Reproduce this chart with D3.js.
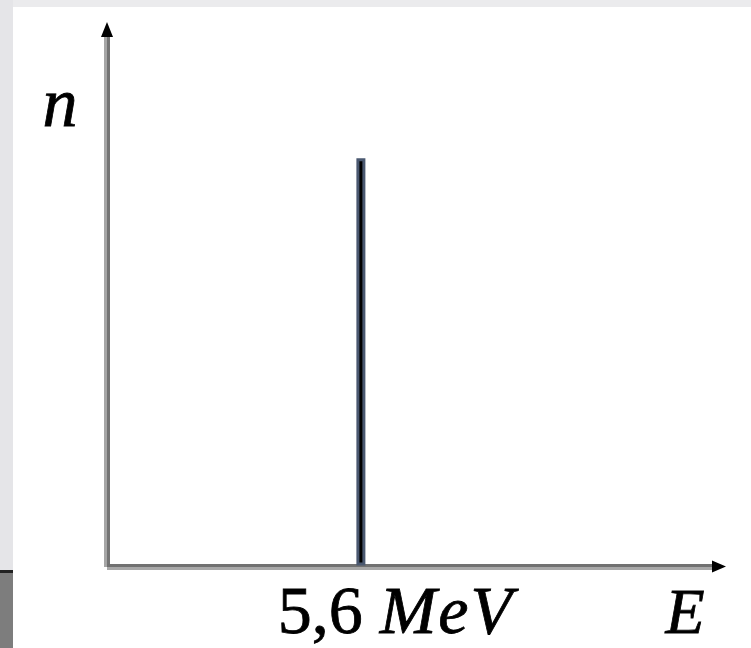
<!DOCTYPE html>
<html>
<head>
<meta charset="utf-8">
<script src="https://cdn.jsdelivr.net/npm/d3@7"></script>
<style>
  html, body { margin: 0; padding: 0; background: #fff; }
  svg { display: block; }
</style>
</head>
<body>
<script>
// ---- Data ----
const energies = [5.6];          // MeV
const counts = [9];              // n (arbitrary units)
const xTickValues = [5.6];
const xTickLabels = ["5,6"];
const xUnit = "MeV";
const xAxisLabel = "E";
const yAxisLabel = "n";

const W = 751, H = 648;
const svg = d3.select("body").append("svg").attr("width", W).attr("height", H);

// background decorations (screenshot frame)
svg.append("rect").attr("x", 0).attr("y", 0).attr("width", W).attr("height", 7).attr("fill", "#ebebed");
svg.append("rect").attr("x", 0).attr("y", 0).attr("width", 13).attr("height", 571).attr("fill", "#e5e5e8");
svg.append("rect").attr("x", 0).attr("y", 570).attr("width", 13).attr("height", 3).attr("fill", "#222");
svg.append("rect").attr("x", 0).attr("y", 573).attr("width", 13).attr("height", 75).attr("fill", "#7d7d7d");

const x0 = 107, y0 = 567;
const x = d3.scaleLinear().domain([0, 13.3]).range([x0, 710]);
const y = d3.scaleLinear().domain([0, 12]).range([y0, 22]);

const g = svg.append("g");
const yTop = y(12);
// y axis (two-tone)
g.append("line").attr("x1", x0 - 1.5).attr("x2", x0 - 1.5).attr("y1", y(0)).attr("y2", yTop + 12)
  .attr("stroke", "#a6a6a6").attr("stroke-width", 3);
g.append("line").attr("x1", x0 + 1.5).attr("x2", x0 + 1.5).attr("y1", y(0)).attr("y2", yTop + 12)
  .attr("stroke", "#747474").attr("stroke-width", 3);
// x axis (two-tone)
g.append("line").attr("x1", x0).attr("x2", x(13.3) + 3).attr("y1", y0 - 1.5).attr("y2", y0 - 1.5)
  .attr("stroke", "#717171").attr("stroke-width", 3);
g.append("line").attr("x1", x0).attr("x2", x(13.3) + 3).attr("y1", y0 + 1.5).attr("y2", y0 + 1.5)
  .attr("stroke", "#a8a8a8").attr("stroke-width", 3);

// arrowheads
g.append("path").attr("d", `M${x0},${yTop} L${x0 + 6},${yTop + 15} L${x0 - 6},${yTop + 15} Z`).attr("fill", "#000");
const xEnd = x(13.3) + 16;
g.append("path").attr("d", `M${xEnd},${y0 - 0.5} L${xEnd - 14},${y0 - 6.5} L${xEnd - 14},${y0 + 5.5} Z`).attr("fill", "#000");

// bar(s)
g.selectAll("rect.bar").data(energies).enter().append("rect")
  .attr("class", "bar")
  .attr("x", d => x(d) - 3)
  .attr("y", (d, i) => y(counts[i]) + 1.5)
  .attr("width", 6)
  .attr("height", (d, i) => y(0) - 3 - y(counts[i]) - 1.5)
  .attr("fill", "#000")
  .attr("stroke", "#4a5870")
  .attr("stroke-width", 3);

// labels
const font = "'Liberation Serif', 'Times New Roman', serif";
const tick = g.selectAll("text.tick").data(xTickValues).enter().append("text")
  .attr("class", "tick")
  .attr("x", d => x(d) + 35)
  .attr("y", 633)
  .attr("text-anchor", "middle")
  .attr("font-family", font)
  .attr("font-size", 68)
  .attr("fill", "#000")
  .attr("stroke", "#000").attr("stroke-width", 0.8);
tick.append("tspan").text((d, i) => xTickLabels[i] + " ");
tick.append("tspan").attr("font-style", "italic").attr("letter-spacing", 2).text(xUnit);

g.append("text").attr("x", 685).attr("y", 633).attr("text-anchor", "middle")
  .attr("font-family", font).attr("font-size", 64).attr("font-style", "italic").attr("fill", "#000")
  .attr("stroke", "#000").attr("stroke-width", 0.8)
  .text(xAxisLabel);
g.append("text").attr("x", 60).attr("y", 126).attr("text-anchor", "middle")
  .attr("font-family", font).attr("font-size", 70).attr("font-style", "italic").attr("fill", "#000")
  .attr("stroke", "#000").attr("stroke-width", 0.8)
  .text(yAxisLabel);
</script>
</body>
</html>
